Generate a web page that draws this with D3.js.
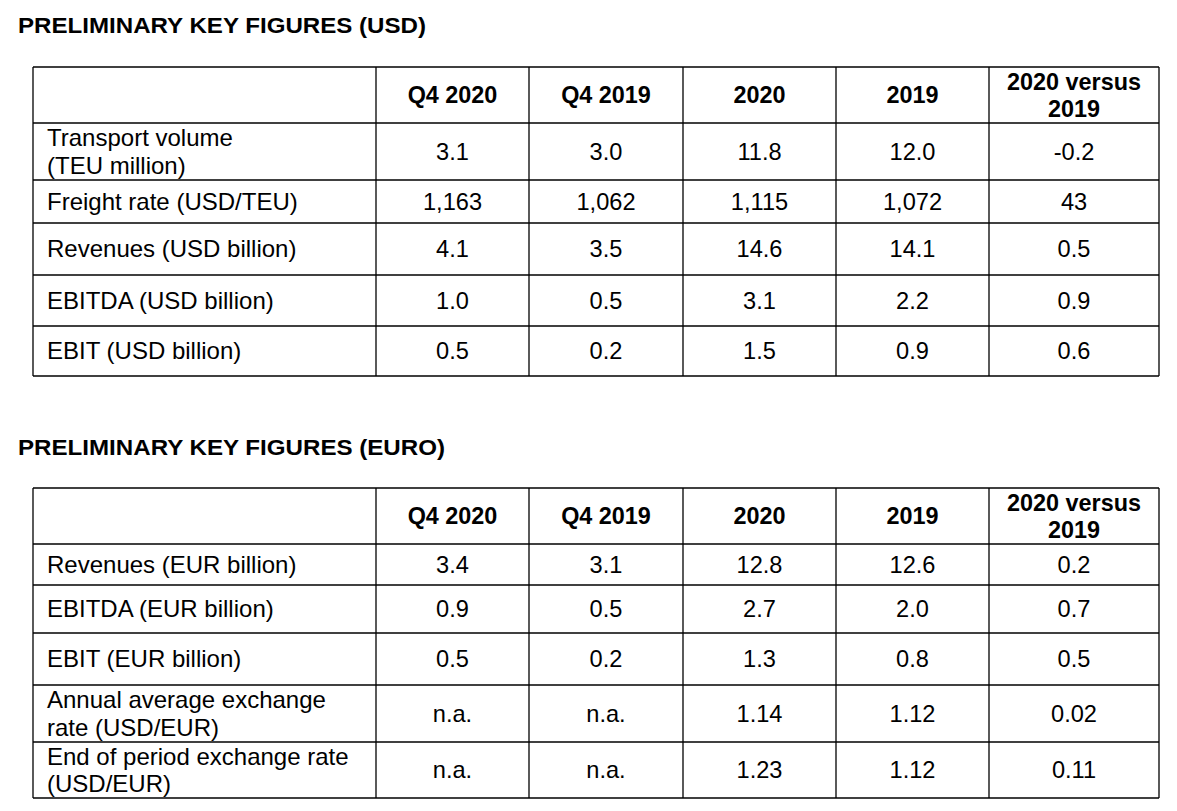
<!DOCTYPE html>
<html>
<head>
<meta charset="utf-8">
<script src="https://cdn.jsdelivr.net/npm/d3@7/dist/d3.min.js"></script>
<style>
  html, body { margin: 0; padding: 0; background: #fff; }
  svg { display: block; }
  text { font-family: "Liberation Sans", Arial, Helvetica, sans-serif; fill: #000; }
</style>
</head>
<body>
<svg id="chart" width="1177" height="811"></svg>
<script>
// ---------- DATA ----------
const columnLabels = ["Q4 2020", "Q4 2019", "2020", "2019", "2020 versus\n2019"];

const usdTitle = "PRELIMINARY KEY FIGURES (USD)";
const usdRowLabels = ["Transport volume\n(TEU million)", "Freight rate (USD/TEU)", "Revenues (USD billion)", "EBITDA (USD billion)", "EBIT (USD billion)"];
const usdFormats = [".1f", ",.0f", ".1f", ".1f", ".1f"];
const usdQ42020 = [3.1, 1163, 4.1, 1.0, 0.5];
const usdQ42019 = [3.0, 1062, 3.5, 0.5, 0.2];
const usd2020   = [11.8, 1115, 14.6, 3.1, 1.5];
const usd2019   = [12.0, 1072, 14.1, 2.2, 0.9];
const usdDelta  = [-0.2, 43, 0.5, 0.9, 0.6];

const eurTitle = "PRELIMINARY KEY FIGURES (EURO)";
const eurRowLabels = ["Revenues (EUR billion)", "EBITDA (EUR billion)", "EBIT (EUR billion)", "Annual average exchange\nrate (USD/EUR)", "End of period exchange rate\n(USD/EUR)"];
const eurFormats = [".1f", ".1f", ".1f", ".2f", ".2f"];
const eurQ42020 = [3.4, 0.9, 0.5, null, null];
const eurQ42019 = [3.1, 0.5, 0.2, null, null];
const eur2020   = [12.8, 2.7, 1.3, 1.14, 1.23];
const eur2019   = [12.6, 2.0, 0.8, 1.12, 1.12];
const eurDelta  = [0.2, 0.7, 0.5, 0.02, 0.11];

// ---------- LAYOUT ----------
const colEdges = [33, 376, 529, 683, 836, 989, 1159];
const tables = [
  { title: usdTitle, titleY: 33, titleW: 408, top: 67, rowHeights: [56, 57, 43, 52, 51, 50],
    labels: usdRowLabels, formats: usdFormats, cols: [usdQ42020, usdQ42019, usd2020, usd2019, usdDelta] },
  { title: eurTitle, titleY: 455, titleW: 427, top: 488, rowHeights: [56, 41, 48, 52, 57, 56],
    labels: eurRowLabels, formats: eurFormats, cols: [eurQ42020, eurQ42019, eur2020, eur2019, eurDelta] }
];
const labelSize = 24, fontSize = 23.6, headSize = 23.4, titleSize = 22.5, lineH = 27.5;

const locale = d3.formatLocale({ decimal: ".", thousands: ",", grouping: [3], currency: ["", ""], minus: "-" });

const svg = d3.select("#chart");
const x = d3.scaleOrdinal(d3.range(colEdges.length), colEdges);

function multiline(sel, str, cx, cy, anchor) {
  const lines = str.split("\n");
  const off = (lines.length - 1) * lineH / 2;
  lines.forEach((ln, i) => {
    sel.append("text")
      .attr("x", cx)
      .attr("y", cy + 8.3 - off + i * lineH)
      .attr("text-anchor", anchor)
      .text(ln);
  });
}

tables.forEach(t => {
  const edges = [t.top];
  t.rowHeights.forEach(h => edges.push(edges[edges.length - 1] + h));
  const y = d3.scaleOrdinal(d3.range(edges.length), edges);
  const nRows = t.rowHeights.length;
  const g = svg.append("g");

  g.append("text")
    .attr("x", 18).attr("y", t.titleY)
    .attr("textLength", t.titleW).attr("lengthAdjust", "spacingAndGlyphs")
    .style("font-size", titleSize + "px").style("font-weight", "bold")
    .text(t.title);

  // header
  const hg = g.append("g").style("font-size", headSize + "px").style("font-weight", "bold");
  columnLabels.forEach((c, j) => {
    const cx = (x(j + 1) + x(j + 2)) / 2;
    const cy = (y(0) + y(1)) / 2;
    multiline(hg, c, cx, cy, "middle");
  });

  // body
  const lab_g = g.append("g").style("font-size", labelSize + "px");
  const bg = g.append("g").style("font-size", fontSize + "px");
  t.labels.forEach((lab, i) => {
    const cy = (y(i + 1) + y(i + 2)) / 2;
    multiline(lab_g, lab, x(0) + 14, cy, "start");
    t.cols.forEach((col, j) => {
      const v = col[i];
      const cx = (x(j + 1) + x(j + 2)) / 2;
      const s = v === null ? "n.a." : locale.format(t.formats[i])(v);
      multiline(bg, s, cx, cy, "middle");
    });
  });

  // grid
  const lg = g.append("g").attr("stroke", "#000").attr("stroke-width", 1.3);
  edges.forEach((yy, i) => {
    lg.append("line").attr("x1", x(0)).attr("x2", x(colEdges.length - 1)).attr("y1", y(i)).attr("y2", y(i));
  });
  colEdges.forEach((xx, j) => {
    lg.append("line").attr("x1", x(j)).attr("x2", x(j)).attr("y1", y(0)).attr("y2", y(nRows));
  });
});
</script>
</body>
</html>
